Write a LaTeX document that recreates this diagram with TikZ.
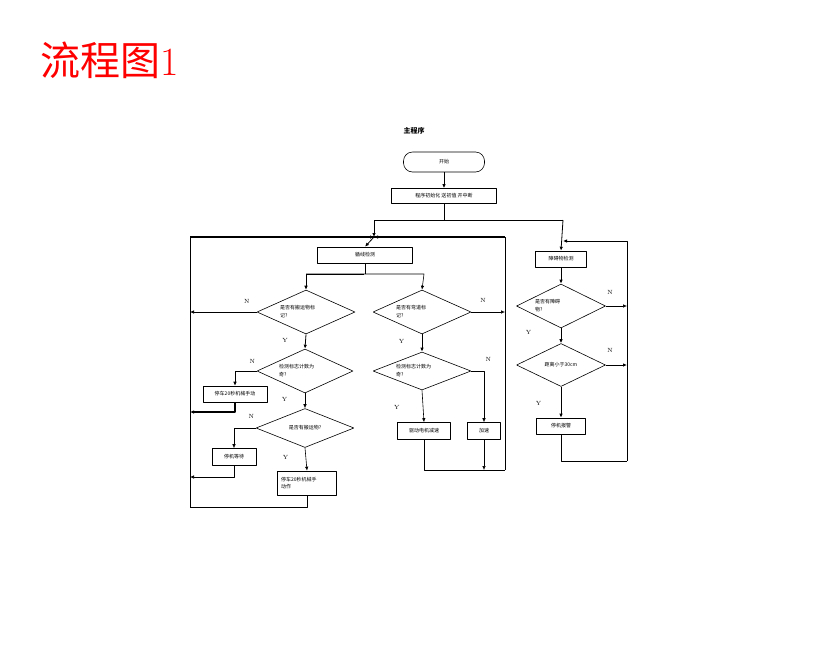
\documentclass[tikz,border=0pt]{standalone}
\usepackage{fontspec}
\newfontfamily\cjk{Noto Sans CJK SC}
\usetikzlibrary{shapes.geometric,arrows.meta}
\tikzset{
  box/.style={draw,semithick,inner sep=1pt,font=\cjk\fontsize{5}{7}\selectfont},
  dec/.style={draw,semithick,diamond,aspect=2.2,inner sep=0pt,minimum width=98pt,minimum height=44pt,text width=52pt,align=left,font=\cjk\fontsize{5}{8}\selectfont},
  lab/.style={font=\fontsize{6}{6}\selectfont},
  arr/.style={semithick,-{Latex[length=4pt,width=3.5pt]}},
  tarr/.style={thick,-{Latex[length=4pt,width=3.5pt]}}
}
\begin{document}
\begin{tikzpicture}[x=1pt,y=-1pt,line join=bevel]
	\useasboundingbox (0,0) rectangle (830,654) ;
	\node[red,font=\fontsize{40}{40}\selectfont] (title) at (110,60) {{\cjk 流程图}1} ;
	\node[font=\cjk\bfseries\fontsize{7}{7}\selectfont] (main) at (414,131) {主程序} ;
	% main chain
	\node[box,rounded corners=9pt,minimum width=81pt,minimum height=20pt] (start) at (444,162) {开始} ;
	\node[box,minimum width=105pt,minimum height=15pt] (init) at (444,196) {程序初始化 送初值 开中断} ;
	\node[box,minimum width=95pt,minimum height=16pt] (track) at (365,255) {循线检测} ;
	\node[dec] (d1) at (306,312) {是否有搬运物标\\记?} ;
	\node[dec] (d2) at (422,312) {是否有弯道标\\记?} ;
	\node[dec,minimum width=96pt] (d3) at (305,371) {检测标志计数为\\奇?} ;
	\node[dec,minimum height=39pt,align=center] (d4) at (305,428) {是否有搬运物?} ;
	\node[dec,minimum height=38pt] (d5) at (422,371) {检测标志计数为\\奇?} ;
	\node[box,minimum width=64pt,minimum height=16pt] (stop1) at (235,394) {停车20秒机械手动} ;
	\node[box,minimum width=44pt,minimum height=17pt] (wait) at (234,457) {停机等待} ;
	\node[box,minimum width=59pt,minimum height=24pt,text width=52pt,align=left] (stop2) at (307,483) {停车20秒机械手\\动作} ;
	\node[box,minimum width=53pt,minimum height=17pt] (slow) at (424,431) {驱动电机减速} ;
	\node[box,minimum width=33pt,minimum height=17pt] (fast) at (484,431) {加速} ;
	% obstacle chain
	\node[box,minimum width=51pt,minimum height=16pt] (obst) at (561,259) {障碍物检测} ;
	\node[dec,minimum width=89pt] (d6) at (561,306) {是否有障碍\\物?} ;
	\node[dec,minimum width=89pt,minimum height=43pt,align=center] (d7) at (561,365) {距离小于30cm} ;
	\node[box,minimum width=49pt,minimum height=16pt] (alarm) at (561,426) {停机报警} ;
	% junctions
	\coordinate (top) at (374,237) ;
	\coordinate (otop) at (563,241) ;
	\coordinate (left) at (190,312) ;
	\coordinate (right) at (505,312) ;
	\coordinate (oright) at (627,306) ;
	\coordinate (join) at (484,470) ;
	% connectors
	\draw[tarr] (start)--(init) ;
	\draw[semithick] (init.south)--++(0,16) coordinate (s) ;
	\draw[thick] (374,220)--(563,220) ;
	\draw[tarr] (374,220)--(top) ;
	\draw[tarr] (563,220)--(obst.north) ;
	\draw[semithick] (190,507)--(190,237) ;
	\draw[semithick] (505,237)--(505,470) ;
	\draw[very thick] (190,237)--(505,237) ;
	\draw[tarr] (190,237)--(top) ;
	\draw[tarr] (505,237)--(top) ;
	\draw[tarr] (top)--(track.north) ;
	\draw[semithick] (track.south)--++(0,11) ;
	\draw[arr] (306,274)--(424,274)--(d2.north) ;
	\draw[arr] (364,274)--(306,274)--(d1.north) ;
	\draw[arr] (d1.west)--(left) node[lab,pos=0.15,above=5pt] {N} ;
	\draw[arr] (d2.east)--(right) node[lab,pos=0.35,above=6pt] {N} ;
	\draw[tarr] (d1.south)--(d3.north) node[lab,pos=0.4,left=14pt] {Y} ;
	\draw[arr] (d3.west)-|(stop1.north) node[lab,pos=0.1,above=4pt] {N} ;
	\draw[very thick,-{Latex[length=4pt,width=3.5pt]}] (stop1.south)|-(190,412) ;
	\draw[arr] (d3.south)--(d4.north) node[lab,pos=0.4,left=14pt] {Y} ;
	\draw[arr] (d4.west)-|(wait.north) node[lab,pos=0.1,above=6pt] {N} ;
	\draw[arr] (wait.south)|-(190,477) ;
	\draw[arr] (d4.south)--(stop2.north) node[lab,pos=0.4,left=14pt] {Y} ;
	\draw[semithick] (stop2.south)|-(190,507) ;
	\draw[tarr] (d2.south)--(d5.north) node[lab,pos=0.4,left=14pt] {Y} ;
	\draw[arr] (d5.south)--(slow.north) node[lab,pos=0.55,left=20pt] {Y} ;
	\draw[arr] (d5.east)-|(fast.north) node[lab,pos=0.6,above=22pt,right=-2pt] {N} ;
	\draw[semithick] (slow.south)|-(505,470) ;
	\draw[arr] (fast.south)--(join) ;
	\draw[tarr] (obst.south)--(d6.north) ;
	\draw[arr] (d6.east)--(oright) node[lab,pos=0.2,above=8pt] {N} ;
	\draw[tarr] (d6.south)--(d7.north) node[lab,pos=0.3,left=26pt] {Y} ;
	\draw[tarr] (d7.east)--(627,365) node[lab,pos=0.2,above=9pt] {N} ;
	\draw[tarr] (d7.south)--(alarm.north) node[lab,pos=0.55,left=16pt] {Y} ;
	\draw[semithick] (alarm.south)|-(627,461) ;
	\draw[thick,-{Latex[length=4pt,width=3.5pt]}] (627,461)--(627,241)--(otop) ;
\end{tikzpicture}
\end{document}
